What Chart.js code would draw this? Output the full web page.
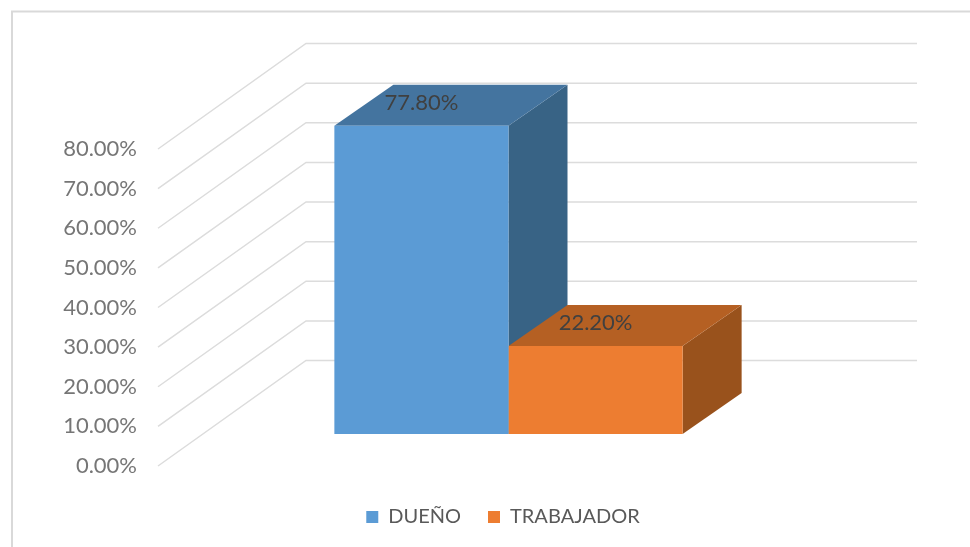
<!DOCTYPE html>
<html>
<head>
<meta charset="utf-8">
<title>Chart</title>
<style>
  html, body { margin: 0; padding: 0; background: #fff; }
  canvas { display: block; }
</style>
<script src="https://cdn.jsdelivr.net/npm/chart.js@4"></script>
</head>
<body>
<canvas id="chart" width="970" height="547"></canvas>
<script>
  const categories = [""];
  const seriesNames = ["DUEÑO", "TRABAJADOR"];
  const duenoValues = [77.8];
  const trabajadorValues = [22.2];
  const tickValues = [0, 10, 20, 30, 40, 50, 60, 70, 80];

  const frontColors = ["#5b9bd5", "#ed7d31"];
  const topColors = ["#44749f", "#b56023"];
  const sideColors = ["#386385", "#99521c"];

  // fake 3D: how far the back wall and the bars sit behind the axis plane
  const wallDepth = { x: 148, y: -105.5 };
  const barOffset = { x: 45, y: -32 };
  const barDepth = { x: 59, y: -41 };
  const fontName = "Lato, 'Open Sans', sans-serif";

  function quad(ctx, points, color) {
    ctx.fillStyle = color;
    ctx.beginPath();
    ctx.moveTo(points[0][0], points[0][1]);
    points.slice(1).forEach((p) => ctx.lineTo(p[0], p[1]));
    ctx.closePath();
    ctx.fill();
  }

  /**
   * Draws the chart frame, the walls and the bar faces Chart.js does not know about.
   */
  const bars3d = {
    id: "bars3d",
    beforeDraw(chart) {
      const ctx = chart.ctx;
      ctx.save();
      ctx.strokeStyle = "#d9d9d9";
      ctx.lineWidth = 2;
      ctx.beginPath();
      ctx.moveTo(12, 547);
      ctx.lineTo(12, 11.5);
      ctx.lineTo(970, 11.5);
      ctx.stroke();
      ctx.restore();
    },
    beforeDatasetsDraw(chart) {
      const ctx = chart.ctx;
      const yScale = chart.scales.y;
      const left = chart.chartArea.left;
      const right = chart.chartArea.right + wallDepth.x;

      ctx.save();
      ctx.strokeStyle = "#dcdcdc";
      ctx.lineWidth = 1.5;
      tickValues.forEach((v) => {
        const y = yScale.getPixelForValue(v);
        ctx.beginPath();
        ctx.moveTo(left, y);
        ctx.lineTo(left + wallDepth.x, y + wallDepth.y);
        ctx.lineTo(right, y + wallDepth.y);
        ctx.stroke();
      });

      chart.data.datasets.forEach((ds, i) => {
        const bar = chart.getDatasetMeta(i).data[0];
        const x0 = bar.x - bar.width / 2 + barOffset.x;
        const x1 = bar.x + bar.width / 2 + barOffset.x;
        const top = bar.y + barOffset.y;
        const base = bar.base + barOffset.y;
        quad(ctx, [[x1, top], [x1 + barDepth.x, top + barDepth.y],
          [x1 + barDepth.x, base + barDepth.y], [x1, base]], sideColors[i]);
        quad(ctx, [[x0, top], [x0 + barDepth.x, top + barDepth.y],
          [x1 + barDepth.x, top + barDepth.y], [x1, top]], topColors[i]);
      });
      ctx.restore();

      // front faces are the real bars, moved back to their place in the depth
      ctx.save();
      ctx.translate(barOffset.x, barOffset.y);
    },
    afterDatasetsDraw(chart) {
      const ctx = chart.ctx;
      ctx.restore();

      ctx.save();
      ctx.fillStyle = "#404040";
      ctx.font = "22px " + fontName;
      ctx.textAlign = "center";
      ctx.textBaseline = "middle";
      chart.data.datasets.forEach((ds, i) => {
        const bar = chart.getDatasetMeta(i).data[0];
        ctx.fillText(ds.data[0].toFixed(2) + "%", bar.x + barOffset.x, bar.y + barOffset.y - 23);
      });
      ctx.restore();
    },
  };

  new Chart(document.getElementById("chart"), {
    type: "bar",
    data: {
      labels: categories,
      datasets: [
        { label: seriesNames[0], data: duenoValues, backgroundColor: frontColors[0], clip: false },
        { label: seriesNames[1], data: trabajadorValues, backgroundColor: frontColors[1], clip: false },
      ],
    },
    plugins: [bars3d],
    options: {
      responsive: false,
      animation: false,
      barPercentage: 1,
      categoryPercentage: 0.57,
      layout: { padding: { top: 149, left: 36, right: 0, bottom: 10 } },
      plugins: {
        tooltip: { enabled: false },
        legend: {
          position: "bottom",
          labels: {
            boxWidth: 12,
            boxHeight: 12,
            padding: 27,
            color: "#595959",
            font: { family: fontName, size: 20 },
          },
        },
      },
      scales: {
        x: {
          grid: { display: false },
          border: { display: false },
          ticks: { display: false },
          afterFit(scale) {
            scale.height = 14;
          },
        },
        y: {
          min: 0,
          max: 80,
          grid: { display: false, drawTicks: false },
          border: { display: false },
          afterBuildTicks(scale) {
            scale.ticks = tickValues.map((v) => ({ value: v }));
          },
          ticks: {
            padding: 21,
            color: "#767676",
            font: { family: fontName, size: 22 },
            callback: (v) => v.toFixed(2) + "%",
          },
          afterFit(scale) {
            scale.width = 122;
          },
        },
        // empty axis, only keeps the plot away from the right edge
        yRight: {
          position: "right",
          grid: { display: false },
          border: { display: false },
          ticks: { display: false },
          afterFit(scale) {
            scale.width = 201;
          },
        },
      },
    },
  });
</script>
</body>
</html>
